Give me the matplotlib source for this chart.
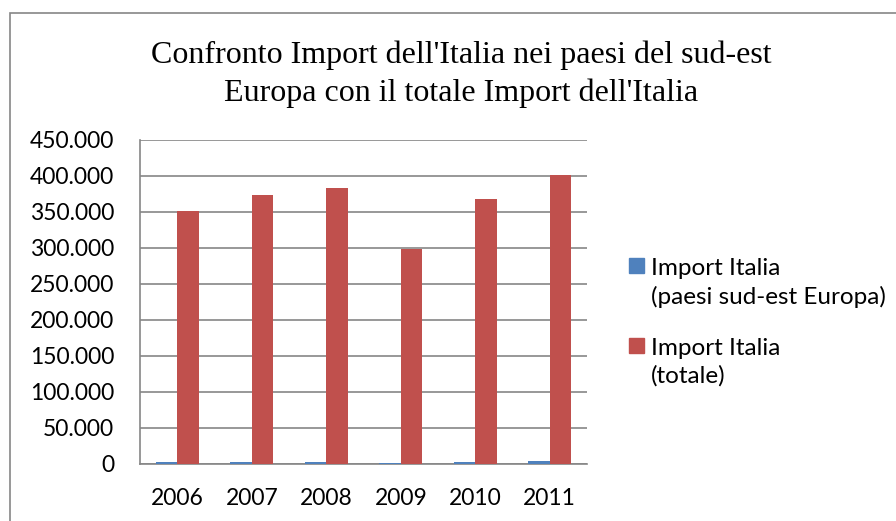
import matplotlib
matplotlib.use("Agg")
import matplotlib.pyplot as plt
from matplotlib.patches import Rectangle
from matplotlib.ticker import FuncFormatter
import numpy as np

# data (values in units)
years = ["2006", "2007", "2008", "2009", "2010", "2011"]
import_sud_est = [2500, 2600, 2600, 2000, 3200, 3600]
import_totale = [351800, 373500, 383000, 298500, 367500, 401500]
labels = ["Import Italia\n(paesi sud-est Europa)", "Import Italia\n(totale)"]
title = "Confronto Import dell'Italia nei paesi del sud-est\nEuropa con il totale Import dell'Italia"

blue = "#4F81BD"
red = "#C0504D"
grey = "#868686"

W, H = 896, 521
fig = plt.figure(figsize=(W / 100, H / 100), dpi=100)
ax = fig.add_axes([140 / W, 1 - 464 / H, (587 - 140) / W, (464 - 140) / H])

x = np.arange(len(years))
bw = 0.286
ax.bar(x - bw / 2, import_sud_est, bw, color=blue, zorder=3)
ax.bar(x + bw / 2, import_totale, bw, color=red, zorder=3)

ax.set_xlim(-0.5, len(years) - 0.5)
ax.set_ylim(0, 450000)
ax.set_yticks(np.arange(0, 450001, 50000))
ax.yaxis.set_major_formatter(FuncFormatter(lambda v, p: f"{int(v):,}".replace(",", ".")))
ax.set_xticks(x)
ax.set_xticklabels(years)
ax.tick_params(length=0, labelsize=16.5)
ax.tick_params(axis="y", pad=18.5)
ax.tick_params(axis="x", pad=17)
for lab in ax.get_xticklabels() + ax.get_yticklabels():
    lab.set_fontfamily("Lato")

ax.grid(axis="y", color=grey, linewidth=1.2, zorder=0)
for s in ["top", "right"]:
    ax.spines[s].set_visible(False)
for s in ["left", "bottom"]:
    ax.spines[s].set_color(grey)
    ax.spines[s].set_linewidth(1.2)

# baseline of the last title line
fig.text(461 / W, 1 - 101.5 / H, title, ha="center", va="baseline",
         fontsize=23, family="Liberation Serif", linespacing=1.38)

# legend drawn by hand so the square sits on the first line
# (ytop of square, baseline of the last text line)
entries = [(blue, 258, 304), (red, 338, 383)]
for (col, ytop, ybase), lab in zip(entries, labels):
    fig.add_artist(Rectangle((629 / W, 1 - (ytop + 15) / H), 15 / W, 15 / H,
                             transform=fig.transFigure, color=col))
    fig.text(651 / W, 1 - ybase / H, lab, ha="left", va="baseline",
             fontsize=17.5, family="Lato", linespacing=1.38)

# outer chart border
fig.add_artist(Rectangle((10 / W, -0.1), 1.2, 1 - 13 / H + 0.1,
                         transform=fig.transFigure, fill=False,
                         edgecolor=grey, linewidth=1.2))

fig.savefig("out.png", dpi=100)
